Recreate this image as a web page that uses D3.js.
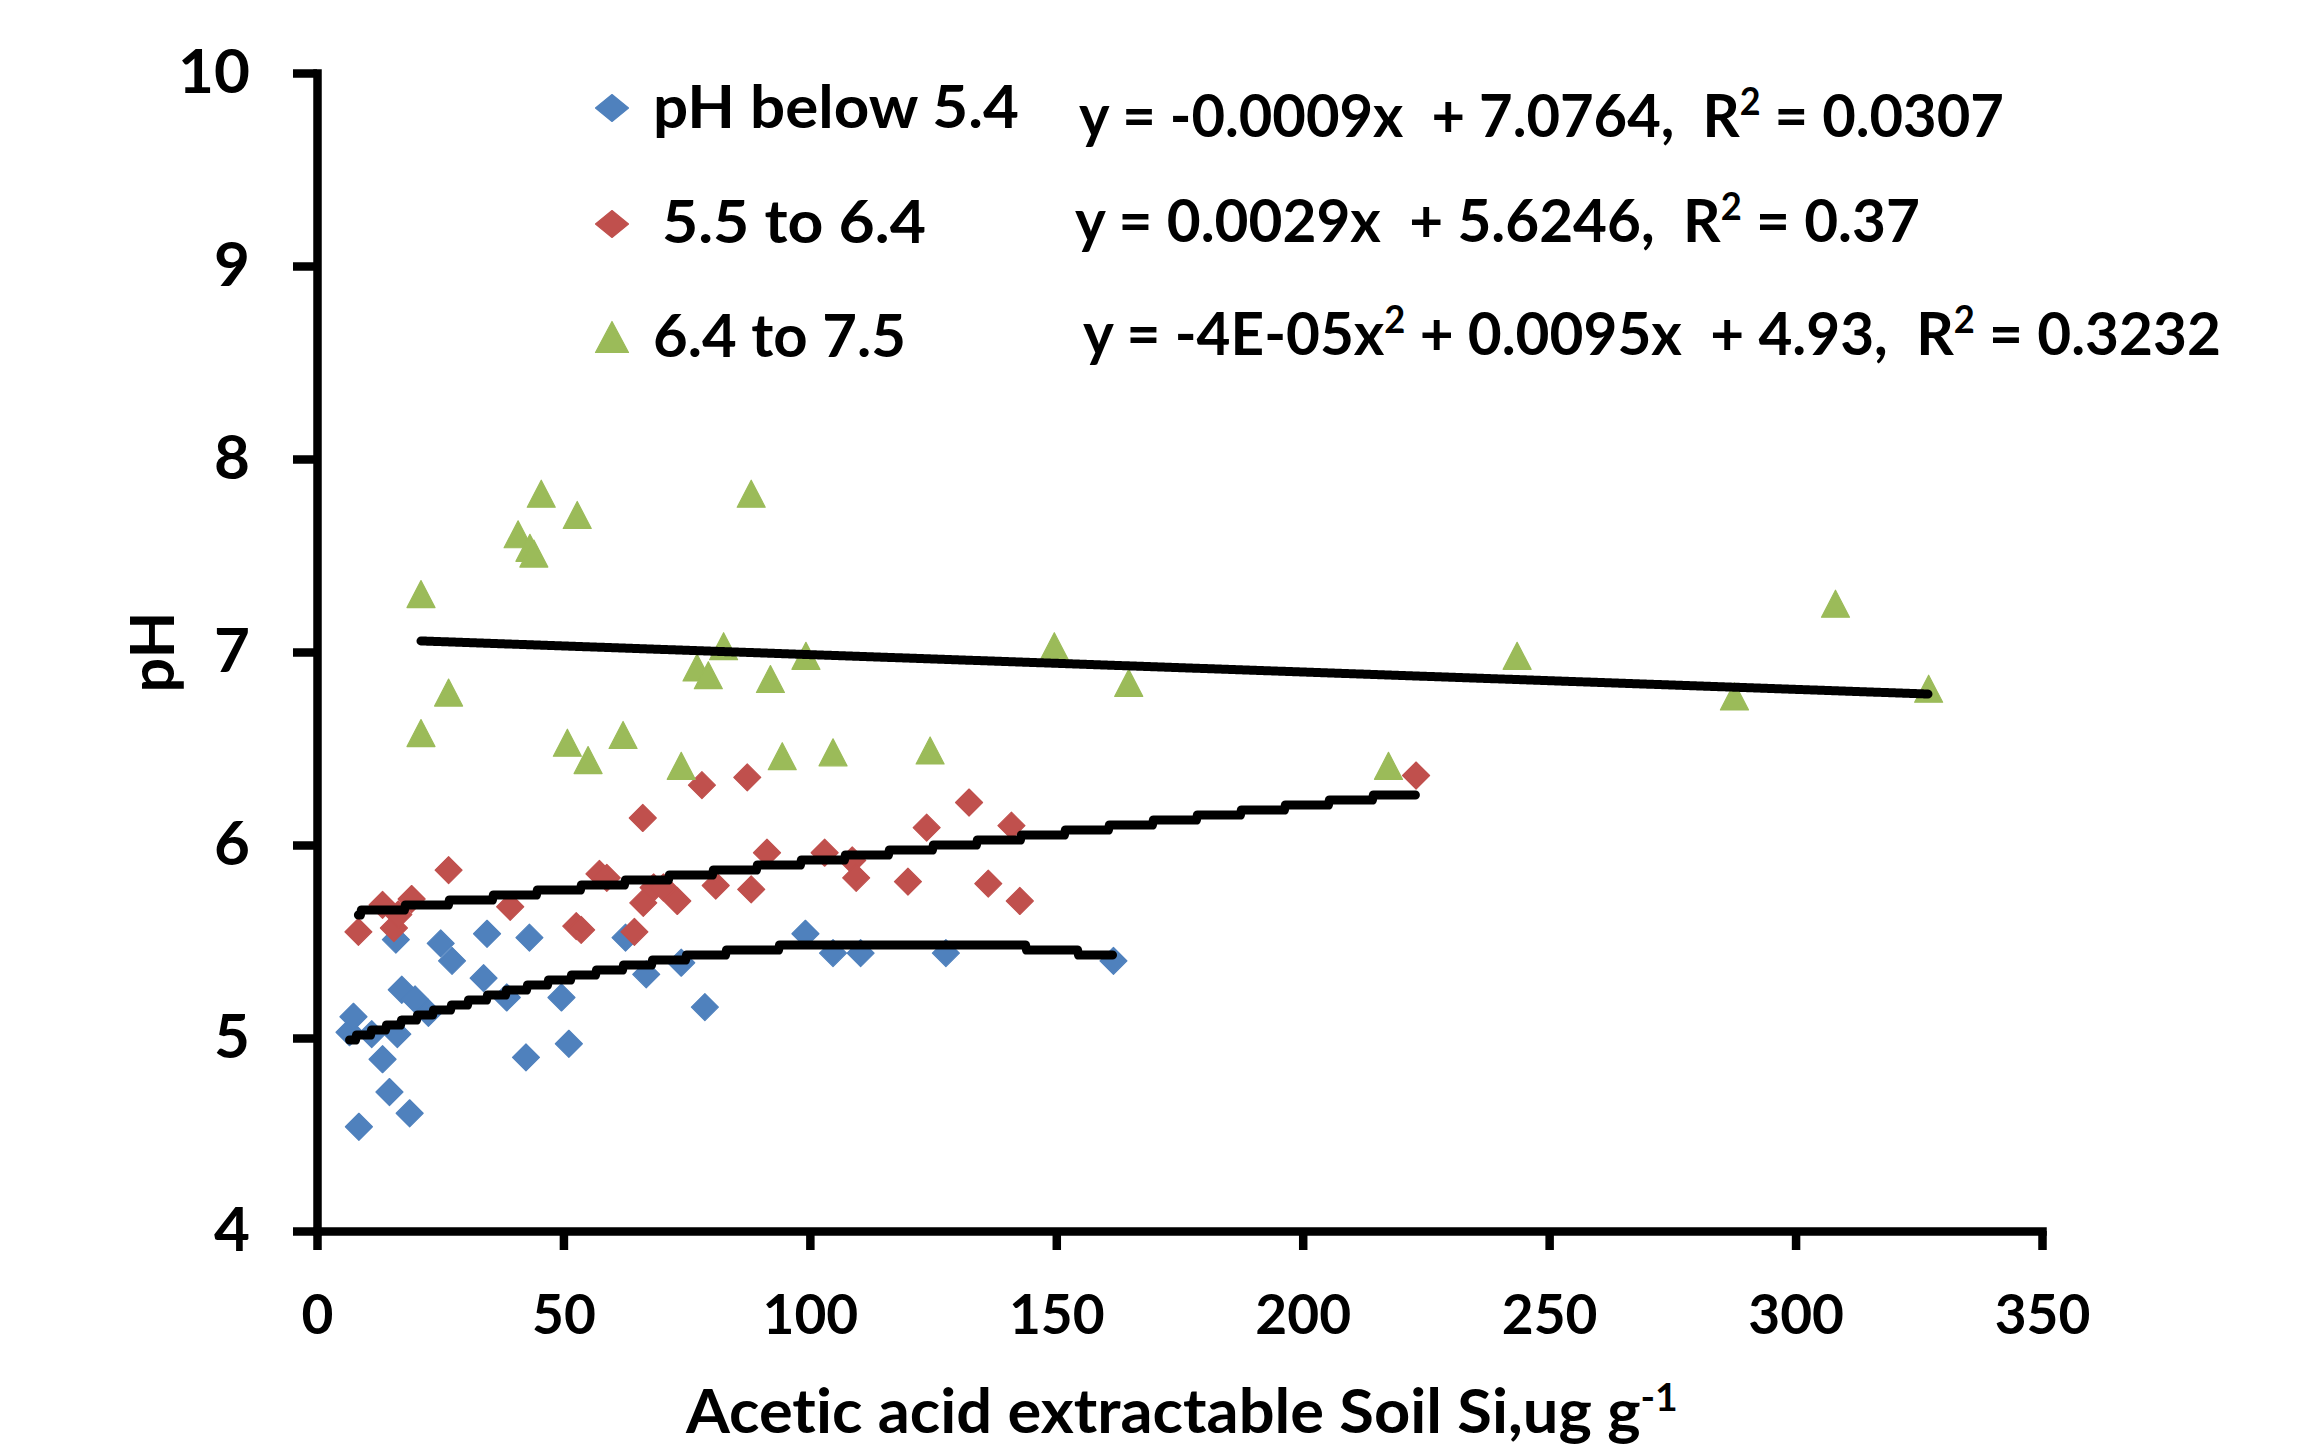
<!DOCTYPE html>
<html>
<head>
<meta charset="utf-8">
<script src="https://cdn.jsdelivr.net/npm/d3@7"></script>
<style>
  html, body { margin: 0; padding: 0; background: #ffffff; }
  svg { display: block; }
  text { font-family: Lato, "Open Sans", sans-serif; font-weight: 700; fill: #000; white-space: pre; font-variant-ligatures: none; }
</style>
</head>
<body>
<svg id="chart" width="2309" height="1445"></svg>
<script>
// ---------------- data ----------------
const seriesNames = ["pH below 5.4", "5.5 to 6.4", "6.4 to 7.5"];
const seriesColors = ["#4F81BD", "#C0504D", "#9BBB59"];

// pH below 5.4 : [Si, pH]
const blueX = [6.6, 7.4, 8.5, 11.1, 13.3, 14.7, 16.0, 16.3, 17.2, 18.8, 19.9, 22.6, 25.1, 27.4, 33.8, 34.5, 38.5, 42.4, 43.1, 49.6, 51.1, 62.6, 66.8, 73.9, 78.7, 99.1, 104.7, 110.3, 127.6, 161.6];
const blueY = [5.03, 5.11, 4.54, 5.02, 4.89, 4.72, 5.51, 5.02, 5.25, 4.61, 5.20, 5.13, 5.49, 5.40, 5.31, 5.54, 5.21, 4.90, 5.52, 5.21, 4.97, 5.52, 5.33, 5.39, 5.16, 5.54, 5.44, 5.44, 5.44, 5.40];

// 5.5 to 6.4
const redX = [8.4, 13.3, 15.6, 16.5, 19.2, 26.7, 39.2, 52.6, 53.6, 57.3, 58.8, 64.4, 66.1, 66.2, 68.3, 70.3, 73.1, 78.1, 80.9, 87.3, 88.1, 91.3, 103.0, 108.6, 109.4, 119.9, 123.7, 132.3, 136.2, 140.9, 142.6, 223.0];
const redY = [5.55, 5.69, 5.57, 5.64, 5.72, 5.87, 5.68, 5.58, 5.56, 5.85, 5.83, 5.55, 6.14, 5.70, 5.78, 5.78, 5.71, 6.31, 5.79, 6.35, 5.77, 5.96, 5.96, 5.92, 5.83, 5.81, 6.09, 6.22, 5.80, 6.10, 5.71, 6.36];

// 6.4 to 7.5
const greenX = [21.1, 21.1, 26.7, 40.8, 43.2, 44.0, 45.5, 50.8, 52.8, 55.0, 62.1, 73.9, 77.1, 79.4, 82.5, 88.1, 92.0, 94.4, 99.2, 104.7, 124.4, 149.6, 164.7, 217.4, 243.5, 287.6, 308.1, 327.0];
const greenY = [7.30, 6.58, 6.79, 7.61, 7.54, 7.51, 7.82, 6.53, 7.71, 6.44, 6.57, 6.41, 6.92, 6.88, 7.03, 7.82, 6.86, 6.46, 6.98, 6.48, 6.49, 7.03, 6.84, 6.41, 6.98, 6.77, 7.25, 6.81];

// trend line coefficients (c0 + c1 x + c2 x^2)
const blueFit = [4.93, 0.0095, -0.00004];
const redFit = [5.6246, 0.0029];
const greenFit = [7.0764, -0.0009];

// equation labels, shown as in the reference
const equations = [
  [{t: "y = -0.0009x  + 7.0764,  R"}, {t: "2", sup: true}, {t: " = 0.0307"}],
  [{t: "y = 0.0029x  + 5.6246,  R"}, {t: "2", sup: true}, {t: " = 0.37"}],
  [{t: "y = -4E-05x"}, {t: "2", sup: true}, {t: " + 0.0095x  + 4.93,  R"}, {t: "2", sup: true}, {t: " = 0.3232"}]
];

const xTicks = [0, 50, 100, 150, 200, 250, 300, 350];
const yTicks = [4, 5, 6, 7, 8, 9, 10];
const xTitle = [{t: "Acetic acid extractable Soil Si,ug g"}, {t: "-1", sup: true}];
const yTitle = "pH";

// ---------------- chart ----------------
const svg = d3.select("#chart");
svg.append("rect").attr("width", 2309).attr("height", 1445).attr("fill", "#fff");

const x = d3.scaleLinear().domain([0, 350]).range([317, 2042]);
const y = d3.scaleLinear().domain([4, 10]).range([1231, 73]);

const AXW = 8.5;

// y axis
const gy = svg.append("g").attr("transform", `translate(${x(0)},0)`)
  .call(d3.axisLeft(y).tickValues(yTicks).tickSize(24).tickSizeOuter(0).tickPadding(43).tickFormat(d3.format("d")));
gy.select(".domain").attr("stroke", "#000").attr("stroke-width", AXW).attr("stroke-linecap", "square");
gy.selectAll(".tick line").attr("stroke", "#000").attr("stroke-width", AXW);
gy.selectAll(".tick text").attr("font-size", 62).attr("font-family", "Lato, sans-serif").attr("font-weight", 700).attr("fill", "#000");

// x axis
const gx = svg.append("g").attr("transform", `translate(0,${y(4)})`)
  .call(d3.axisBottom(x).tickValues(xTicks).tickSize(19).tickSizeOuter(0).tickPadding(45).tickFormat(d3.format("d")));
gx.select(".domain").attr("stroke", "#000").attr("stroke-width", AXW).attr("stroke-linecap", "square");
gx.selectAll(".tick line").attr("stroke", "#000").attr("stroke-width", AXW);
gx.selectAll(".tick text").attr("font-size", 55).attr("font-family", "Lato, sans-serif").attr("font-weight", 700).attr("fill", "#000");

// marker shapes
const R = 13.5;
const diamondPath = `M0,${-R}L${R},0L0,${R}L${-R},0Z`;
const triPath = `M0,${-R}L${R + 0.5},${R}L${-R - 0.5},${R}Z`;
const shapes = [diamondPath, diamondPath, triPath];

const series = [
  d3.zip(blueX, blueY),
  d3.zip(redX, redY),
  d3.zip(greenX, greenY)
];

const gPts = svg.append("g");
series.forEach((pts, i) => {
  gPts.append("g").selectAll("path").data(pts).join("path")
    .attr("d", shapes[i])
    .attr("transform", d => `translate(${x(d[0])},${y(d[1])})`)
    .attr("fill", seriesColors[i])
    .attr("stroke", seriesColors[i])
    .attr("stroke-width", 1.2)
    .attr("stroke-linejoin", "round");
});

// trend lines
function poly(c, v) { return c.reduce((s, ci, k) => s + ci * Math.pow(v, k), 0); }
function trendPoints(xs, coef, q) {
  const [a, b] = d3.extent(xs);
  const p0 = x(a), p1 = x(b);
  const out = [];
  for (let p = p0; p <= p1 + 0.001; p += 1) {
    const px = Math.min(p, p1);
    let py = y(poly(coef, x.invert(px)));
    if (q) py = Math.round(py / q) * q;
    out.push([px, py]);
  }
  return out;
}
const lineGen = d3.line();
const trends = [
  trendPoints(blueX, blueFit, 5),
  trendPoints(redX, redFit, 5),
  trendPoints(greenX, greenFit, 0)
];
svg.append("g").selectAll("path").data(trends).join("path")
  .attr("d", d => lineGen(d))
  .attr("fill", "none")
  .attr("stroke", "#000")
  .attr("stroke-width", 9)
  .attr("stroke-linecap", "round")
  .attr("stroke-linejoin", "round");

// rich text helper with horizontal fitting to a target width
function richText(parent, parts, size, x0, baseline, width) {
  const t = parent.append("text").attr("font-size", size).attr("x", 0).attr("y", 0);
  let raised = false;
  parts.forEach(p => {
    const ts = t.append("tspan").text(p.t);
    if (p.sup && !raised) { ts.attr("font-size", size * 0.62).attr("dy", -size * 0.36); raised = true; }
    else if (!p.sup && raised) { ts.attr("dy", size * 0.36); raised = false; }
  });
  let k = 1;
  if (width) {
    const bb = t.node().getBBox();
    k = width / bb.width;
  }
  t.attr("transform", `translate(${x0},${baseline}) scale(${k},1)`);
  return t;
}

// legend
const legendY = [108, 224, 337];
const legendTextX = [653, 662, 653];
const legendBase = [128, 243, 357];
const legendW = [366, 264, 253];
const gLeg = svg.append("g");
const legShapes = [
  `M0,-13.5L16.5,0L0,13.5L-16.5,0Z`,
  `M0,-13.5L16.5,0L0,13.5L-16.5,0Z`,
  `M0,-15.5L16.5,15.5L-16.5,15.5Z`
];
seriesNames.forEach((name, i) => {
  gLeg.append("path").attr("d", legShapes[i])
    .attr("transform", `translate(612,${legendY[i]})`)
    .attr("fill", seriesColors[i]).attr("stroke", seriesColors[i])
    .attr("stroke-width", 1.2).attr("stroke-linejoin", "round");
  richText(gLeg, [{t: name}], 60, legendTextX[i], legendBase[i], legendW[i]);
});

// equations
const eqX = [1079, 1075, 1083];
const eqBase = [137, 242, 355];
const eqW = [925, 845, 1138];
equations.forEach((eq, i) => richText(svg, eq, 60, eqX[i], eqBase[i], eqW[i]));

// axis titles
richText(svg, xTitle, 61, 686, 1433, 993);
svg.append("text")
  .attr("font-size", 61)
  .attr("text-anchor", "middle")
  .attr("transform", `translate(174,${(y(4) + y(10)) / 2}) rotate(-90)`)
  .text(yTitle);
</script>
</body>
</html>
